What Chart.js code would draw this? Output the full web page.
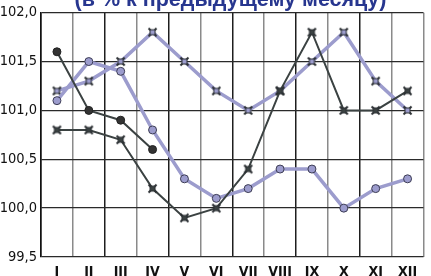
<!DOCTYPE html>
<html>
<head>
<meta charset="utf-8">
<script src="https://cdn.jsdelivr.net/npm/chart.js@4"></script>
<style>
  html, body { margin: 0; padding: 0; background: #fff; overflow: hidden; }
  #wrap { position: relative; width: 431px; height: 276px; }
  #title {
    position: absolute; left: 0; top: -11px; width: 431px; padding-left: 30px;
    box-sizing: border-box; text-align: center; white-space: nowrap;
    font: bold 21.5px/1 'Liberation Sans', Arial, sans-serif; color: #27368f;
  }
</style>
</head>
<body>
<div id="wrap">
  <canvas id="chart"></canvas>
  <div id="title">(в % к предыдущему месяцу)</div>
</div>
<script>
// --- данные ---
const months = ["I", "II", "III", "IV", "V", "VI", "VII", "VIII", "IX", "X", "XI", "XII"];
const darkDots  = [101.6, 101.0, 100.9, 100.6, null, null, null, null, null, null, null, null];
const darkCross = [100.8, 100.8, 100.7, 100.2, 99.9, 100.0, 100.4, 101.2, 101.8, 101.0, 101.0, 101.2];
const lightDots = [101.1, 101.5, 101.4, 100.8, 100.3, 100.1, 100.2, 100.4, 100.4, 100.0, 100.2, 100.3];
const lightCross = [101.2, 101.3, 101.5, 101.8, 101.5, 101.2, 101.0, 101.2, 101.5, 101.8, 101.3, 101.0];
const yTicks = [99.5, 100.0, 100.5, 101.0, 101.5, 102.0];

const DARK = "#3b4242";
const LIGHT = "#9c9ccd";

// маркер-крестик с квадратиком в центре
function crossMarker(fill) {
    const c = document.createElement("canvas");
    c.width = 11; c.height = 11;
    const g = c.getContext("2d");
    g.strokeStyle = "#2b2f33";
    g.lineWidth = 2;
    g.beginPath();
    g.moveTo(1.5, 1.5); g.lineTo(9.5, 9.5);
    g.moveTo(9.5, 1.5); g.lineTo(1.5, 9.5);
    g.stroke();
    g.fillStyle = fill;
    g.fillRect(3, 3, 5, 5);
    g.lineWidth = 1;
    g.strokeRect(3, 3, 5, 5);
    return c;
}

const font = "'Liberation Sans Narrow', 'DejaVu Sans Condensed', sans-serif";

new Chart(document.querySelector("#chart"), {
    type: "line",
    data: {
        labels: months,
        datasets: [
            { data: darkDots, borderColor: DARK, borderWidth: 2,
              pointStyle: "circle", pointRadius: 4, pointBackgroundColor: "#333",
              pointBorderColor: "#222", pointBorderWidth: 1 },
            { data: darkCross, borderColor: DARK, borderWidth: 2,
              pointStyle: crossMarker("#3b4242") },
            { data: lightDots, borderColor: LIGHT, borderWidth: 3.5,
              pointStyle: "circle", pointRadius: 4, pointBackgroundColor: LIGHT,
              pointBorderColor: "#3d3d55", pointBorderWidth: 1 },
            { data: lightCross, borderColor: LIGHT, borderWidth: 3.5,
              pointStyle: crossMarker(LIGHT) },
        ],
    },
    options: {
        responsive: true,
        maintainAspectRatio: false,
        animation: false,
        layout: { padding: { top: 8 } },
        plugins: {
            legend: { display: false },
            tooltip: { enabled: false },
        },
        scales: {
            x: {
                offset: true,
                grid: {
                    offset: true,
                    color: ctx => (ctx.index >= 12 ? "rgba(0,0,0,0)" :
                                   ctx.index % 2 === 0 ? "#1e1e1e" : "#8a8a8a"),
                    lineWidth: 1.5,
                    drawTicks: false,
                },
                border: { display: false },
                ticks: { color: "#111", font: { family: font, size: 14, weight: "bold" }, padding: 7 },
                afterFit: axis => { axis.height = 19; },
            },
            y: {
                min: 99.5, max: 102.0,
                afterBuildTicks: axis => { axis.ticks = yTicks.map(v => ({ value: v })); },
                grid: { color: "#2a2a2a", lineWidth: 1.3, drawTicks: false },
                border: { color: "#111", width: 1.5 },
                ticks: {
                    color: "#111",
                    padding: 4,
                    font: { family: font, size: 14.5 },
                    callback: v => v.toFixed(1).replace(".", ","),
                },
                afterFit: axis => { axis.width = 41; },
            },
        },
    },
});
</script>
</body>
</html>
